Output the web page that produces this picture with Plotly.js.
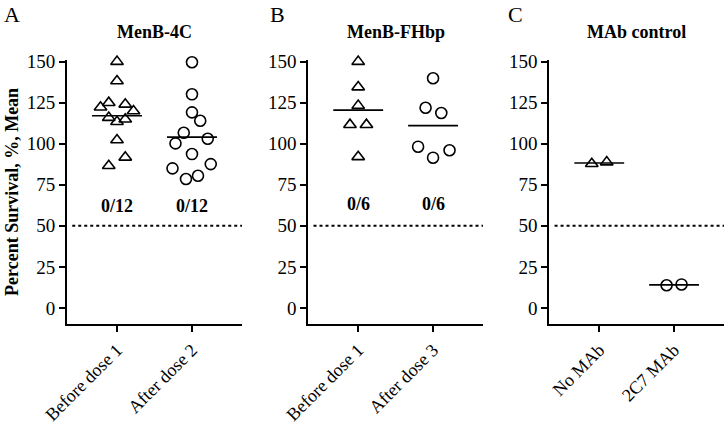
<!DOCTYPE html>
<html>
<head>
<meta charset="utf-8">
<script src="https://cdn.plot.ly/plotly-3.0.1.min.js"></script>
<style>
  body { margin: 0; background: #fff; }
  #chart { width: 725px; height: 424px; }
</style>
</head>
<body>
<div id="chart"></div>
<script>
// panel A: MenB-4C
const aLabels = ["Before dose 1", "After dose 2"];
const aBefore = [150, 138.2, 122.2, 125, 124, 119.9, 115.9, 113.4, 114.9, 102.3, 91.7, 86.6];
const aBeforeJit = [0, 0, -0.22, -0.11, 0.11, 0.22, -0.11, 0, 0.11, 0, 0.11, -0.11];
const aAfter = [149.6, 130.1, 119.1, 114, 106.7, 100.2, 103, 93.7, 85, 87.6, 78.5, 80.5];
const aAfterJit = [0, 0, 0, 0.11, -0.11, -0.22, 0.21, 0, -0.26, 0.25, -0.08, 0.08];

// panel B: MenB-FHbp
const bLabels = ["Before dose 1", "After dose 3"];
const bBefore = [150, 134.5, 123.2, 111.6, 111.6, 92];
const bBeforeJit = [0, 0, 0, -0.11, 0.11, 0];
const bAfter = [139.9, 121.9, 118.7, 98.2, 96, 91.5];
const bAfterJit = [0, -0.1, 0.11, -0.2, 0.22, 0];

// panel C: MAb control
const cLabels = ["No MAb", "2C7 MAb"];
const cNo = [87.8, 88.8];
const cNoJit = [-0.1, 0.1];
const c2C7 = [13.8, 14.3];
const c2C7Jit = [-0.1, 0.1];

const aCounts = ["0/12", "0/12"];
const bCounts = ["0/6", "0/6"];

const serif = "Liberation Serif";
const mean = arr => arr.reduce((s, v) => s + v, 0) / arr.length;

function dots(vals, jit, cat, sym, xa, ya) {
  return {
    x: vals.map((v, i) => cat + jit[i]),
    y: vals,
    xaxis: xa, yaxis: ya,
    type: "scatter", mode: "markers", cliponaxis: false,
    marker: { symbol: sym, size: 11, color: "#000", line: { color: "#000", width: 1.6 } },
    hoverinfo: "y"
  };
}

function meanLine(vals, cat, xa, ya) {
  const m = mean(vals);
  return {
    x: [cat - 0.333, cat + 0.333],
    y: [m, m],
    xaxis: xa, yaxis: ya,
    type: "scatter", mode: "lines",
    line: { color: "#000", width: 1.6 },
    hoverinfo: "skip"
  };
}

const traces = [
  dots(aBefore, aBeforeJit, 0, "triangle-up-open", "x", "y"),
  meanLine(aBefore, 0, "x", "y"),
  dots(aAfter, aAfterJit, 1, "circle-open", "x", "y"),
  meanLine(aAfter, 1, "x", "y"),
  dots(bBefore, bBeforeJit, 0, "triangle-up-open", "x2", "y2"),
  meanLine(bBefore, 0, "x2", "y2"),
  dots(bAfter, bAfterJit, 1, "circle-open", "x2", "y2"),
  meanLine(bAfter, 1, "x2", "y2"),
  dots(cNo, cNoJit, 0, "triangle-up-open", "x3", "y3"),
  meanLine(cNo, 0, "x3", "y3"),
  dots(c2C7, c2C7Jit, 1, "circle-open", "x3", "y3"),
  meanLine(c2C7, 1, "x3", "y3")
];

function xAxis(dom, labels, anchor) {
  return {
    domain: dom, anchor: anchor,
    range: [-0.667, 1.667],
    tickvals: [0, 1], ticktext: labels,
    tickangle: -45,
    showline: true, linecolor: "#000", linewidth: 2,
    ticks: "outside", ticklen: 6, tickwidth: 2, tickcolor: "#000",
    showgrid: false, zeroline: false,
    tickfont: { family: serif, size: 18, color: "#000" }
  };
}

function yAxis(anchor) {
  return {
    domain: [0.2351, 0.8585], anchor: anchor,
    range: [-10, 151],
    tickvals: [0, 25, 50, 75, 100, 125, 150],
    showline: true, linecolor: "#000", linewidth: 2,
    ticks: "outside", ticklen: 6, tickwidth: 2, tickcolor: "#000",
    showgrid: false, zeroline: false,
    tickfont: { family: serif, size: 19, color: "#000" }
  };
}

const doms = [[0.0924, 0.3338], [0.4252, 0.6662], [0.7577, 0.9986]];

const annotations = [];
const titles = ["MenB-4C", "MenB-FHbp", "MAb control"];
const letters = ["A", "B", "C"];
const letterX = [2, 268, 506];
doms.forEach((d, i) => {
  annotations.push({
    xref: "paper", yref: "paper", x: (d[0] + d[1]) / 2, y: (424 - 32) / 424,
    xanchor: "center", yanchor: "middle",
    text: "<b>" + titles[i] + "</b>", showarrow: false,
    font: { family: serif, size: 18, color: "#000" }
  });
  annotations.push({
    xref: "paper", yref: "paper", x: letterX[i] / 725, y: (424 - 14) / 424,
    xanchor: "left", yanchor: "middle", text: letters[i], showarrow: false,
    font: { family: serif, size: 22, color: "#000" }
  });
});
aCounts.forEach((t, i) => annotations.push({
  xref: "x", yref: "y", x: i, y: 62, text: "<b>" + t + "</b>", showarrow: false,
  xanchor: "center", yanchor: "middle",
  font: { family: serif, size: 18, color: "#000" }
}));
bCounts.forEach((t, i) => annotations.push({
  xref: "x2", yref: "y2", x: i, y: 63.5, text: "<b>" + t + "</b>", showarrow: false,
  xanchor: "center", yanchor: "middle",
  font: { family: serif, size: 18, color: "#000" }
}));
annotations.push({
  xref: "paper", yref: "paper", x: 12 / 725, y: (424 - 192) / 424,
  xanchor: "center", yanchor: "middle",
  text: "<b>Percent Survival, %, Mean</b>", textangle: -90, showarrow: false,
  font: { family: serif, size: 18, color: "#000" }
});

const shapes = ["x", "x2", "x3"].map((xa, i) => ({
  type: "line", xref: xa + " domain", yref: ["y", "y2", "y3"][i],
  x0: 0.03, x1: 1, y0: 50, y1: 50,
  line: { color: "#000", width: 2, dash: "dot" }
}));

const layout = {
  width: 725, height: 424,
  margin: { l: 0, r: 0, t: 0, b: 0 },
  paper_bgcolor: "#fff", plot_bgcolor: "rgba(0,0,0,0)",
  showlegend: false,
  xaxis: xAxis(doms[0], aLabels, "y"),
  yaxis: yAxis("x"),
  xaxis2: xAxis(doms[1], bLabels, "y2"),
  yaxis2: yAxis("x2"),
  xaxis3: xAxis(doms[2], cLabels, "y3"),
  yaxis3: yAxis("x3"),
  annotations: annotations,
  shapes: shapes
};

Plotly.newPlot("chart", traces, layout, { displayModeBar: false, staticPlot: true });
</script>
</body>
</html>
